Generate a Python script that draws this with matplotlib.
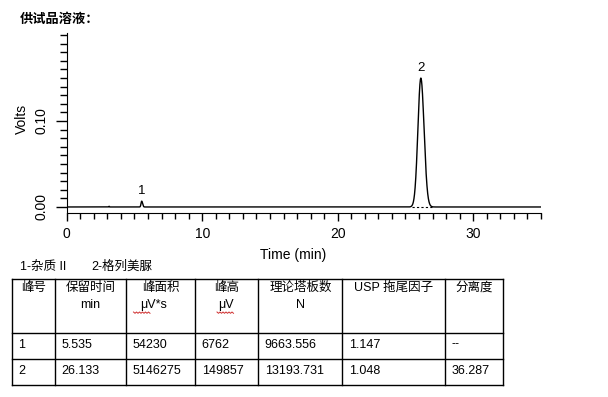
import matplotlib.pyplot as plt
import numpy as np

plt.rcParams['font.family'] = ['Liberation Sans', 'Noto Sans CJK SC', 'DejaVu Sans']

# peak table (from the report)
peak_ids = ['1', '2']
ret_times = [5.535, 26.133]          # min
areas = [54230, 5146275]             # uV*s
heights_uv = [6762, 149857]          # uV
plates = [9663.556, 13193.731]
tailing = [1.147, 1.048]
resolution = ['--', '36.287']
peak_names = ['1-杂质 II', '2-格列美脲']

# tiny baseline blip seen near 3.1 min (V)
blip_time = 3.13
blip_height = 0.0008

col_headers = ['峰号', '保留时间', '峰面积', '峰高', '理论塔板数', 'USP 拖尾因子', '分离度']
col_units = ['', 'min', 'μV*s', 'μV', 'N', '', '']

# build the trace from the peak parameters
t = np.linspace(0, 35, 7001)
signal = np.zeros_like(t)
for tr, h, n, tf in zip(ret_times, heights_uv, plates, tailing):
    sigma = tr / np.sqrt(n)
    r = 2 * tf - 1
    s_left = sigma * 2 / (1 + r)
    s_right = sigma * 2 * r / (1 + r)
    s = np.where(t < tr, s_left, s_right)
    signal += h / 1e6 * np.exp(-0.5 * ((t - tr) / s) ** 2)
signal += blip_height * np.exp(-0.5 * ((t - blip_time) / 0.02) ** 2)

fig = plt.figure(figsize=(6.08, 3.97), dpi=100)
W, H = 608, 397

ax = fig.add_axes([66.7 / W, 1 - 213 / H, (541 - 66.7) / W, (213 - 33) / H])
ax.plot(t, signal, color='black', lw=1)
# dashed baseline under the main peak
ax.plot([25.45, 26.95], [0, 0], color='black', lw=0.8, ls=(0, (2, 2)))
for pid, tr, h in zip(peak_ids, ret_times, heights_uv):
    ax.text(tr, h / 1e6 + 0.005, pid, ha='center', va='bottom', fontsize=9.5)

ax.set_xlim(0, 35)
ax.set_ylim(-0.007, 0.2023)
ax.spines['top'].set_visible(False)
ax.spines['right'].set_visible(False)
ax.set_xticks([0, 10, 20, 30])
ax.set_xticks(np.arange(0, 36, 1), minor=True)
ax.set_yticks([0.0, 0.1])
ax.set_yticklabels(['0.00', '0.10'], rotation=90, va='center')
ax.set_yticks(np.arange(0, 0.201, 0.01), minor=True)
ax.tick_params(axis='x', which='major', length=6, width=1, labelsize=10, pad=4)
ax.tick_params(axis='x', which='minor', length=4, width=1)
ax.tick_params(axis='y', which='major', length=8, width=1, labelsize=10, pad=5)
ax.tick_params(axis='y', which='minor', length=5, width=1)
ax.set_xlabel('Time (min)', fontsize=10)
ax.xaxis.set_label_coords((293 - 66.7) / (541 - 66.7), -(248 - 213) / 180, transform=ax.transAxes)
ax.set_ylabel('Volts', fontsize=10)
ax.yaxis.set_label_coords(-(66.7 - 29) / 474.3, 0.52)

# overlay in pixel coordinates for title, legend and table
ov = fig.add_axes([0, 0, 1, 1])
ov.set_xlim(0, W)
ov.set_ylim(H, 0)
ov.axis('off')

ov.text(20, 20, '供试品溶液：', fontsize=9.5, fontweight='bold', ha='left', va='center')
ov.text(20, 267, peak_names[0], fontsize=9, ha='left', va='center')
ov.text(91.5, 267, peak_names[1], fontsize=9, ha='left', va='center')

col_x = [11.7, 55.3, 126, 195.3, 258.3, 342.3, 444.7, 503]
row_y = [279.3, 332.7, 359, 385]
for x in col_x:
    ov.plot([x, x], [row_y[0], row_y[-1]], color='black', lw=1)
for y in row_y:
    ov.plot([col_x[0], col_x[-1]], [y, y], color='black', lw=1)

unit_shift = [0, 0, -7, -1, 0, 0, 0]
for i, (hd, un) in enumerate(zip(col_headers, col_units)):
    cx = (col_x[i] + col_x[i + 1]) / 2
    ov.text(cx, 288, hd, fontsize=9, ha='center', va='center')
    if un:
        ov.text(cx + unit_shift[i], 305, un, fontsize=9, ha='center', va='center')

# red squiggles under the uV units
for x0, x1 in [(133.5, 150), (217, 234)]:
    xs = np.arange(x0, x1 + 0.1, 1.5)
    ys = 312 + np.where(np.arange(len(xs)) % 2 == 0, 0, 1.3)
    ov.plot(xs, ys, color='#d03030', lw=0.7)

rows = []
for k in range(len(peak_ids)):
    rows.append([peak_ids[k], f'{ret_times[k]:.3f}', str(areas[k]), str(heights_uv[k]),
                 f'{plates[k]:.3f}', f'{tailing[k]:.3f}', resolution[k]])
row_cy = [344.5, 370.5]
for r, cy in zip(rows, row_cy):
    for i, val in enumerate(r):
        ov.text(col_x[i] + 6.5, cy, val, fontsize=9, ha='left', va='center')

fig.savefig('out.png', dpi=100)
